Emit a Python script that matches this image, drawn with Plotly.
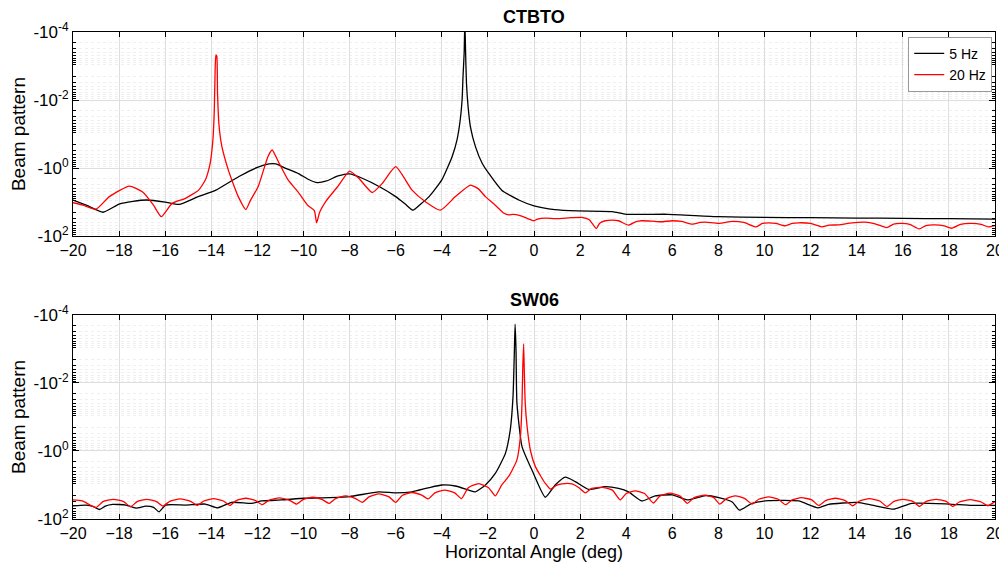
import plotly.graph_objects as go

# beam pattern; y values are log10 of the magnitude
ctbto_x_5hz = [-20, -19.4, -18.7, -18.0, -17.4, -16.8, -16.0, -15.4, -14.6, -13.8, -12.8, -12.0,
               -11.5, -11.2, -10.8, -10.2, -9.8, -9.4, -9.0, -8.5, -8.0, -7.45, -6.7, -6.0, -5.6,
               -5.25, -4.9, -4.55, -4.0, -3.55, -3.34, -3.2, -3.12, -3.08, -3.03, -3.0, -2.97,
               -2.93, -2.86, -2.76, -2.54, -2.25, -1.96, -1.4, -0.66, 0, 0.9, 1.9, 3.4, 4.0,
               5.8, 8, 10, 12, 14, 16, 18, 20]
ctbto_5hz = [0.94, 1.1, 1.30, 1.06, 0.98, 0.94, 1.0, 1.07, 0.85, 0.65, 0.25, -0.02,
             -0.12, -0.12, 0.0, 0.17, 0.33, 0.43, 0.38, 0.23, 0.17, 0.30, 0.55, 0.84, 1.05,
             1.24, 1.05, 0.84, 0.35, -0.34, -0.83, -1.42, -2.0, -2.69, -3.38, -4.3, -3.48,
             -2.5, -1.81, -1.22, -0.63, -0.14, 0.16, 0.65, 0.94, 1.11, 1.22, 1.26, 1.28, 1.36,
             1.36, 1.43, 1.45, 1.46, 1.47, 1.48, 1.49, 1.50]

ctbto_x_20hz = [-20, -19.57, -19.0, -18.42, -17.56, -16.99, -16.5, -16.17, -15.70, -15.12, -14.55,
                -14.26, -14.05, -13.93, -13.87, -13.83, -13.80, -13.76, -13.73, -13.66, -13.54,
                -13.26, -13.11, -12.83, -12.5, -12.3, -11.97, -11.54, -11.36, -11.10, -10.67,
                -10.24, -9.81, -9.53, -9.43, -9.3, -9.0, -8.52, -8.0, -7.6, -7.02, -6.58, -6.0,
                -5.29, -4.71, -4.06, -3.41, -2.76, -2.4, -2.11, -1.8, -1.53, -1.3, -1.1, -0.9,
                -0.6, -0.3, 0, 0.15, 0.5, 0.9, 1.21, 1.6, 2.08, 2.4, 2.7, 2.85, 3.09, 3.4, 3.67,
                4.1, 4.4, 4.68, 5.1, 5.5, 6.0, 6.4, 6.87, 7.2, 7.44, 8.02, 8.6, 9.1, 9.64, 9.9,
                10.17, 10.5, 10.9, 11.2, 11.48, 12.0, 12.48, 12.8, 13.2, 13.8, 14.35, 14.8, 15.3,
                15.6, 15.96, 16.3, 16.71, 17.0, 17.4, 17.8, 18.12, 18.5, 18.99, 19.4, 19.71, 20]
ctbto_20hz = [1.02, 1.09, 1.21, 0.84, 0.53, 0.70, 1.1, 1.43, 1.04, 0.89, 0.65,
              0.35, -0.14, -0.83, -1.71, -2.99, -3.33, -3.28, -2.2, -1.22, -0.63,
              0.06, 0.35, 0.84, 1.22, 0.95, 0.55, -0.34, -0.53, -0.2, 0.35,
              0.7, 1.1, 1.25, 1.61, 1.3, 0.95, 0.55, 0.09, 0.30, 0.72, 0.45, -0.04,
              0.65, 0.99, 1.24, 0.84, 0.50, 0.62, 0.84, 1.02, 1.19, 1.33, 1.38, 1.36,
              1.40, 1.48, 1.55, 1.50, 1.47, 1.49, 1.48, 1.46, 1.45, 1.52, 1.78, 1.62, 1.55, 1.53, 1.55,
              1.68, 1.58, 1.55, 1.56, 1.58, 1.55, 1.57, 1.65, 1.60, 1.59, 1.63, 1.57, 1.60, 1.73, 1.63,
              1.61, 1.63, 1.70, 1.63, 1.61, 1.63, 1.73, 1.68, 1.67, 1.61, 1.59, 1.64, 1.75,
              1.65, 1.63, 1.66, 1.79, 1.69, 1.67, 1.70, 1.77, 1.66, 1.63, 1.66, 1.73, 1.69]

sw06_x_5hz = [-20, -19.43, -19.1, -18.85, -18.6, -18.28, -17.70, -17.27, -16.84, -16.5, -16.27,
              -15.98, -15.12, -14.26, -13.72, -13.11, -12.25, -11.82, -10.96, -9.96, -8.9, -8.0,
              -6.73, -6.0, -5.29, -4.56, -4.0, -3.41, -2.83, -2.54, -2.11, -1.68, -1.24, -1.03,
              -0.91, -0.85, -0.82, -0.78, -0.74, -0.52, -0.09, 0.49, 0.92, 1.36, 1.79, 2.37, 3.09,
              3.67, 4.1, 4.68, 5.26, 6.0, 6.65, 7.44, 8.02, 8.6, 8.91, 9.46, 10.18, 11.48, 12.32,
              12.78, 14.02, 14.66, 15.60, 16.39, 17.98, 18.99, 20]
sw06_5hz = [1.61, 1.59, 1.64, 1.72, 1.62, 1.57, 1.59, 1.68, 1.62, 1.66, 1.79,
            1.59, 1.59, 1.56, 1.67, 1.51, 1.54, 1.47, 1.44, 1.39, 1.37, 1.34,
            1.20, 1.23, 1.20, 1.08, 1.0, 1.03, 1.15, 1.2, 1.0, 0.66, 0.07, -0.62,
            -1.6, -2.97, -3.73, -2.97, -1.4, -0.13, 0.56, 1.36, 1.0, 0.77, 0.90, 1.13, 1.05,
            1.10, 1.2, 1.47, 1.32, 1.29, 1.44, 1.31, 1.37, 1.5, 1.74, 1.54, 1.46, 1.47, 1.67,
            1.57, 1.51, 1.59, 1.71, 1.54, 1.56, 1.6, 1.6]

sw06_x_20hz = [-20, -19.6, -19.0, -18.7, -18.25, -17.8, -17.5, -17.22, -16.8, -16.38, -16.1,
               -15.8, -15.35, -14.9, -14.6, -14.32, -13.9, -13.48, -13.2, -12.92, -12.5, -12.08,
               -11.8, -11.5, -11.05, -10.6, -10.3, -10.02, -9.6, -9.18, -8.9, -8.61, -8.17, -7.74,
               -7.45, -7.16, -6.73, -6.29, -6.0, -5.72, -5.29, -4.87, -4.59, -4.3, -3.87, -3.44,
               -3.15, -2.85, -2.4, -1.97, -1.68, -1.4, -1.1, -0.9, -0.74, -0.59, -0.52, -0.49,
               -0.45, -0.42, -0.38, -0.30, -0.15, 0.06, 0.3, 0.49, 0.71, 0.95, 1.21, 1.45, 1.65,
               1.95, 2.22, 2.5, 2.95, 3.4, 3.74, 4.0, 4.39, 4.8, 5.18, 5.45, 5.9, 6.35, 6.65,
               6.95, 7.4, 7.8, 8.06, 8.35, 8.74, 9.15, 9.46, 9.75, 10.18, 10.6, 10.91, 11.2,
               11.6, 12.05, 12.35, 12.65, 13.08, 13.5, 13.82, 14.12, 14.55, 15.0, 15.31, 15.6,
               16.0, 16.45, 16.72, 17.0, 17.45, 17.9, 18.16, 18.45, 18.92, 19.4, 19.68, 20]
sw06_20hz = [1.44, 1.47, 1.66, 1.49, 1.42, 1.49, 1.64, 1.49, 1.42, 1.49, 1.62,
             1.48, 1.41, 1.48, 1.60, 1.47, 1.40, 1.47, 1.60, 1.46, 1.39, 1.46,
             1.58, 1.45, 1.38, 1.45, 1.56, 1.43, 1.36, 1.43, 1.54, 1.40, 1.32, 1.40,
             1.51, 1.35, 1.26, 1.35, 1.51, 1.31, 1.22, 1.30, 1.41, 1.23, 1.15, 1.23,
             1.40, 1.08, 0.96, 1.08, 1.32, 1.0, 0.75, 0.5, 0.26, -0.42, -1.4, -2.38,
             -3.15, -2.3, -1.4, -0.72, 0.0, 0.46, 0.75, 0.95, 1.12, 1.02, 0.97, 0.95, 0.97,
             1.08, 1.23, 1.1, 1.07, 1.15, 1.44, 1.25, 1.17, 1.25, 1.53, 1.33, 1.24, 1.33, 1.54,
             1.37, 1.30, 1.37, 1.56, 1.40, 1.32, 1.40, 1.56, 1.42, 1.35, 1.42, 1.58, 1.44,
             1.37, 1.44, 1.60, 1.46, 1.39, 1.46, 1.61, 1.47, 1.40, 1.47, 1.63, 1.49,
             1.42, 1.49, 1.63, 1.49, 1.42, 1.49, 1.63, 1.50, 1.43, 1.50, 1.61, 1.49]

y_tickvals = [1e-4, 1e-2, 1, 1e2]
y_ticktext = ['-10<sup>-4</sup>', '-10<sup>-2</sup>', '-10<sup>0</sup>', '-10<sup>2</sup>']
y_minor = [m * 10 ** k for k in range(-4, 2) for m in range(2, 10)]

font = 'Liberation Sans, Arial, sans-serif'

fig = go.Figure()

def pow10(vals):
    return [10 ** v for v in vals]

line_kw = dict(width=1.3, shape='spline', smoothing=0.5)

fig.add_trace(go.Scatter(x=ctbto_x_5hz, y=pow10(ctbto_5hz), mode='lines', name='5 Hz',
                         line=dict(color='black', **line_kw), xaxis='x', yaxis='y'))
fig.add_trace(go.Scatter(x=ctbto_x_20hz, y=pow10(ctbto_20hz), mode='lines', name='20 Hz',
                         line=dict(color='red', **line_kw), xaxis='x', yaxis='y'))
fig.add_trace(go.Scatter(x=sw06_x_5hz, y=pow10(sw06_5hz), mode='lines', showlegend=False,
                         line=dict(color='black', **line_kw), xaxis='x2', yaxis='y2'))
fig.add_trace(go.Scatter(x=sw06_x_20hz, y=pow10(sw06_20hz), mode='lines', showlegend=False,
                         line=dict(color='red', **line_kw), xaxis='x2', yaxis='y2'))

xaxis_style = dict(
    range=[-20, 20], dtick=2, tick0=0, ticks='inside', ticklen=5, tickcolor='black',
    showline=True, linecolor='black', linewidth=1, mirror='allticks',
    showgrid=True, gridcolor='#dedede', gridwidth=1, zeroline=False, automargin=False,
    tickfont=dict(size=16, color='black', family=font),
)
yaxis_style = dict(
    type='log', range=[2, -4], tickvals=y_tickvals, ticktext=y_ticktext,
    ticks='inside', ticklen=6, tickcolor='black', automargin=False,
    showline=True, linecolor='black', linewidth=1, mirror='allticks',
    showgrid=True, gridcolor='#dedede', gridwidth=1, zeroline=False,
    tickfont=dict(size=17, color='black', family=font),
    title=dict(text='Beam pattern', font=dict(size=19, color='black', family=font), standoff=2),
    minor=dict(tickvals=y_minor, ticks='inside', ticklen=3, tickcolor='black',
               showgrid=True, gridcolor='#efefef', griddash='dot', gridwidth=1),
)

top_dom = [0.581, 1.0]
bot_dom = [0.0, 0.419]

# page body adds an 8px offset, so the figure is a bit smaller than the window
fig.update_layout(
    width=999, height=559,
    margin=dict(l=65, r=12, t=24, b=48),
    paper_bgcolor='white', plot_bgcolor='white',
    font=dict(family=font, color='black'),
    xaxis=dict(xaxis_style, anchor='y', domain=[0, 1]),
    yaxis=dict(yaxis_style, anchor='x', domain=top_dom),
    xaxis2=dict(xaxis_style, anchor='y2', domain=[0, 1],
                title=dict(text='Horizontal Angle (deg)', standoff=2,
                           font=dict(size=18, color='black', family=font))),
    yaxis2=dict(yaxis_style, anchor='x2', domain=bot_dom),
    legend=dict(x=0.997, y=0.99, xanchor='right', yanchor='top',
                bgcolor='white', bordercolor='#9a9a9a', borderwidth=1,
                font=dict(size=14, color='black', family=font),
                itemwidth=30, tracegroupgap=0),
    showlegend=True,
    annotations=[
        dict(text='<b>CTBTO</b>', x=0.5, y=top_dom[1], xref='paper', yref='paper',
             xanchor='center', yanchor='bottom', yshift=3, showarrow=False,
             font=dict(size=18, color='black', family=font)),
        dict(text='<b>SW06</b>', x=0.5, y=bot_dom[1], xref='paper', yref='paper',
             xanchor='center', yanchor='bottom', yshift=3, showarrow=False,
             font=dict(size=18, color='black', family=font)),
    ],
)

fig.write_html('out.html')
